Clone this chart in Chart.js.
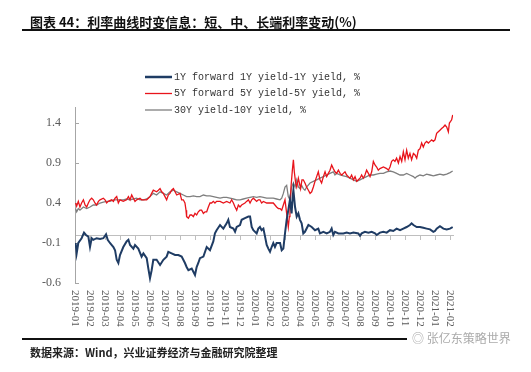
<!DOCTYPE html>
<html><head><meta charset="utf-8">
<script src="https://cdn.jsdelivr.net/npm/chart.js@4.4.1/dist/chart.umd.min.js"></script>
<style>
html,body{margin:0;padding:0;background:#fff;}
#wrap{position:relative;width:531px;height:372px;overflow:hidden;}
#c{position:absolute;left:0;top:0;}
.t{position:absolute;white-space:nowrap;}
</style></head>
<body><div id="wrap">
<canvas id="c" width="531" height="372"></canvas>
<div class="t" style="left:30px;top:13px;font:bold 13px 'Noto Sans CJK SC';color:#111;line-height:17px;">图表 44：利率曲线时变信息：短、中、长端利率变动(%)</div>
<div style="position:absolute;left:22px;top:29px;width:488px;height:1.5px;background:#111;"></div>
<div style="position:absolute;left:22px;top:338px;width:385px;height:1.5px;background:#111;"></div>
<div class="t" style="left:30px;top:345px;font:bold 11px 'Noto Sans CJK SC';color:#222;line-height:15px;">数据来源：Wind，兴业证券经济与金融研究院整理</div>
<div class="t" style="left:412px;top:330px;font:12px 'Noto Sans CJK SC';color:#aaa;line-height:16px;">◎ 张亿东策略世界</div>
</div>
<script>
const monthLabels = ['2019-01','2019-02','2019-03','2019-04','2019-05','2019-06','2019-07','2019-08','2019-09','2019-10','2019-11','2019-12','2020-01','2020-02','2020-03','2020-04','2020-05','2020-06','2020-07','2020-08','2020-09','2020-10','2020-11','2020-12','2021-01','2021-02'];
const yTickValues = [-0.6,-0.1,0.4,0.9,1.4];
const seriesNames = ['1Y forward 1Y yield-1Y yield, %','5Y forward 5Y yield-5Y yield, %','30Y yield-10Y yield, %'];
const seriesColors = ['#1F3C64','#E8141B','#7F7F7F'];

// [month offset from 2019-01, value]
const fwd1y = [[0.04,-0.10],[0.11,-0.23],[0.22,-0.10],[0.44,-0.04],[0.6,0.03],[0.73,0.0],[0.89,-0.02],[1.0,-0.15],[1.11,-0.04],[1.22,-0.06],[1.44,-0.04],[1.67,-0.05],[1.89,-0.04],[2.07,0.01],[2.18,-0.06],[2.33,-0.10],[2.56,-0.15],[2.67,-0.19],[2.78,-0.31],[2.89,-0.35],[3.0,-0.25],[3.22,-0.15],[3.44,-0.08],[3.56,-0.06],[3.67,-0.125],[3.89,-0.17],[4.0,-0.125],[4.22,-0.17],[4.44,-0.27],[4.56,-0.23],[4.78,-0.29],[4.89,-0.42],[5.0,-0.54],[5.11,-0.44],[5.22,-0.31],[5.44,-0.31],[5.67,-0.375],[5.89,-0.31],[6.11,-0.27],[6.22,-0.21],[6.44,-0.23],[6.67,-0.25],[6.89,-0.25],[7.11,-0.27],[7.33,-0.35],[7.44,-0.40],[7.56,-0.44],[7.78,-0.42],[7.89,-0.46],[8.0,-0.50],[8.11,-0.40],[8.22,-0.35],[8.33,-0.29],[8.56,-0.27],[8.78,-0.15],[9.0,-0.19],[9.22,-0.08],[9.33,0.02],[9.44,0.06],[9.67,0.125],[9.89,0.08],[10.11,0.146],[10.22,0.19],[10.33,0.10],[10.56,0.08],[10.67,0.04],[10.78,0.10],[11.0,0.125],[11.11,0.19],[11.33,0.21],[11.56,0.23],[11.67,0.23],[11.78,0.10],[11.89,0.06],[12.11,0.02],[12.22,0.08],[12.33,0.10],[12.44,0.06],[12.56,0.08],[12.67,-0.02],[12.78,-0.125],[12.89,-0.17],[13.0,-0.21],[13.11,-0.15],[13.22,-0.10],[13.33,-0.15],[13.44,-0.10],[13.67,-0.10],[13.78,-0.19],[13.89,-0.17],[14.0,0.02],[14.11,0.19],[14.22,0.31],[14.33,0.44],[14.44,0.27],[14.51,0.48],[14.56,0.56],[14.67,0.35],[14.78,0.23],[14.89,0.27],[15.0,0.19],[15.11,0.146],[15.22,0.02],[15.33,0.04],[15.56,0.125],[15.78,0.10],[16.0,0.06],[16.22,0.08],[16.33,0.02],[16.56,0.04],[16.78,0.02],[17.0,0.04],[17.11,0.08],[17.22,0.0],[17.33,0.04],[17.56,0.02],[17.89,0.02],[18.11,0.03],[18.33,0.02],[18.56,0.03],[18.89,0.02],[19.0,-0.01],[19.11,0.02],[19.33,0.04],[19.56,0.03],[19.78,0.04],[20.0,0.02],[20.11,0.0],[20.33,0.03],[20.56,0.04],[20.78,0.03],[21.0,0.06],[21.22,0.05],[21.44,0.08],[21.67,0.06],[21.89,0.08],[22.11,0.10],[22.33,0.125],[22.44,0.146],[22.56,0.125],[22.78,0.10],[23.0,0.10],[23.22,0.09],[23.44,0.08],[23.67,0.07],[23.89,0.04],[24.0,0.05],[24.11,0.08],[24.33,0.11],[24.56,0.08],[24.78,0.07],[25.0,0.08],[25.18,0.10]];

const fwd5y = [[0.04,0.40],[0.11,0.36],[0.22,0.42],[0.33,0.35],[0.44,0.40],[0.56,0.44],[0.67,0.375],[0.78,0.35],[0.89,0.40],[1.0,0.44],[1.11,0.46],[1.22,0.44],[1.33,0.40],[1.44,0.375],[1.56,0.42],[1.67,0.44],[1.89,0.46],[2.0,0.44],[2.11,0.40],[2.22,0.42],[2.44,0.44],[2.56,0.42],[2.67,0.46],[2.78,0.48],[2.89,0.40],[3.0,0.44],[3.22,0.42],[3.44,0.44],[3.56,0.48],[3.67,0.44],[3.78,0.50],[3.89,0.46],[4.0,0.42],[4.11,0.44],[4.33,0.46],[4.44,0.44],[4.56,0.44],[4.78,0.44],[5.0,0.48],[5.11,0.52],[5.22,0.56],[5.44,0.54],[5.56,0.56],[5.67,0.58],[5.78,0.54],[5.89,0.52],[6.0,0.48],[6.11,0.44],[6.22,0.50],[6.33,0.52],[6.44,0.56],[6.56,0.58],[6.67,0.54],[6.78,0.50],[7.0,0.52],[7.11,0.44],[7.22,0.44],[7.33,0.40],[7.4,0.31],[7.44,0.23],[7.56,0.21],[7.67,0.25],[7.78,0.25],[7.89,0.23],[8.0,0.27],[8.11,0.25],[8.22,0.29],[8.33,0.31],[8.44,0.31],[8.56,0.27],[8.67,0.29],[8.78,0.29],[8.89,0.35],[9.0,0.40],[9.11,0.40],[9.22,0.42],[9.33,0.40],[9.44,0.42],[9.67,0.42],[9.89,0.40],[10.11,0.42],[10.33,0.40],[10.44,0.44],[10.56,0.40],[10.67,0.35],[10.78,0.31],[10.89,0.375],[11.0,0.35],[11.11,0.375],[11.33,0.40],[11.44,0.42],[11.56,0.44],[11.67,0.40],[11.78,0.44],[11.89,0.46],[12.0,0.44],[12.11,0.42],[12.22,0.44],[12.33,0.44],[12.44,0.40],[12.56,0.42],[12.78,0.40],[13.0,0.40],[13.22,0.40],[13.33,0.375],[13.44,0.35],[13.56,0.33],[13.67,0.33],[13.78,0.31],[13.89,0.375],[14.0,0.44],[14.11,0.27],[14.16,0.19],[14.22,0.10],[14.29,0.23],[14.33,0.35],[14.4,0.60],[14.49,0.81],[14.56,0.94],[14.62,0.79],[14.71,0.65],[14.78,0.60],[14.89,0.71],[14.96,0.65],[15.04,0.58],[15.13,0.69],[15.22,0.69],[15.33,0.65],[15.44,0.60],[15.56,0.56],[15.67,0.52],[15.78,0.54],[15.89,0.60],[16.0,0.67],[16.11,0.73],[16.22,0.79],[16.33,0.69],[16.44,0.65],[16.56,0.73],[16.67,0.79],[16.78,0.73],[16.89,0.77],[17.0,0.81],[17.11,0.875],[17.22,0.83],[17.33,0.79],[17.44,0.77],[17.56,0.81],[17.67,0.77],[17.78,0.75],[17.89,0.77],[18.0,0.79],[18.11,0.75],[18.22,0.73],[18.33,0.71],[18.44,0.75],[18.56,0.69],[18.67,0.73],[18.78,0.67],[18.89,0.69],[19.0,0.71],[19.11,0.75],[19.22,0.71],[19.33,0.75],[19.44,0.81],[19.56,0.77],[19.67,0.73],[19.78,0.79],[19.89,0.92],[20.0,0.875],[20.11,0.85],[20.22,0.81],[20.33,0.83],[20.56,0.85],[20.78,0.83],[20.89,0.81],[21.0,0.85],[21.11,0.92],[21.22,0.94],[21.33,0.92],[21.44,0.96],[21.56,0.90],[21.67,0.98],[21.78,0.92],[21.89,1.04],[22.0,0.94],[22.11,1.06],[22.22,0.96],[22.33,1.02],[22.44,0.94],[22.56,1.02],[22.67,1.00],[22.78,0.96],[22.89,1.06],[23.0,1.08],[23.11,1.15],[23.22,1.10],[23.33,1.15],[23.44,1.17],[23.56,1.15],[23.67,1.17],[23.78,1.19],[23.89,1.17],[24.0,1.19],[24.11,1.27],[24.22,1.29],[24.33,1.31],[24.44,1.33],[24.56,1.35],[24.67,1.375],[24.78,1.35],[24.89,1.29],[24.96,1.40],[25.04,1.42],[25.11,1.44],[25.18,1.50]];

const y30m10 = [[0.04,0.33],[0.11,0.29],[0.22,0.33],[0.33,0.31],[0.56,0.35],[0.78,0.33],[1.0,0.35],[1.22,0.375],[1.44,0.375],[1.67,0.40],[1.89,0.41],[2.11,0.42],[2.33,0.42],[2.56,0.44],[2.78,0.44],[3.0,0.44],[3.22,0.44],[3.44,0.45],[3.67,0.44],[3.89,0.45],[4.11,0.46],[4.33,0.44],[4.56,0.44],[4.78,0.45],[5.0,0.48],[5.22,0.52],[5.44,0.50],[5.67,0.54],[5.89,0.52],[6.11,0.50],[6.33,0.54],[6.56,0.56],[6.78,0.54],[7.0,0.52],[7.22,0.50],[7.44,0.48],[7.67,0.48],[7.89,0.49],[8.11,0.48],[8.33,0.48],[8.56,0.50],[8.78,0.49],[9.0,0.49],[9.22,0.48],[9.44,0.47],[9.67,0.46],[9.89,0.47],[10.11,0.47],[10.33,0.46],[10.56,0.45],[10.78,0.44],[11.0,0.44],[11.22,0.45],[11.44,0.46],[11.67,0.47],[11.89,0.48],[12.11,0.47],[12.33,0.48],[12.56,0.47],[12.78,0.46],[13.0,0.46],[13.22,0.46],[13.44,0.45],[13.67,0.44],[13.78,0.46],[13.89,0.52],[14.0,0.60],[14.11,0.62],[14.22,0.48],[14.33,0.44],[14.44,0.60],[14.56,0.65],[14.67,0.60],[14.78,0.69],[14.89,0.60],[15.0,0.58],[15.11,0.62],[15.22,0.58],[15.33,0.56],[15.44,0.60],[15.67,0.65],[15.89,0.67],[16.11,0.69],[16.33,0.71],[16.56,0.73],[16.78,0.75],[17.0,0.77],[17.22,0.79],[17.33,0.75],[17.44,0.77],[17.67,0.75],[17.89,0.74],[18.11,0.73],[18.33,0.71],[18.56,0.69],[18.78,0.67],[19.0,0.69],[19.22,0.71],[19.44,0.73],[19.67,0.75],[19.89,0.75],[20.11,0.76],[20.33,0.77],[20.56,0.77],[20.78,0.79],[21.0,0.80],[21.22,0.79],[21.44,0.77],[21.67,0.75],[21.89,0.75],[22.11,0.77],[22.33,0.75],[22.56,0.73],[22.67,0.71],[22.78,0.73],[23.0,0.75],[23.22,0.74],[23.44,0.76],[23.67,0.75],[23.89,0.74],[24.11,0.75],[24.33,0.76],[24.56,0.75],[24.78,0.76],[25.0,0.78],[25.18,0.80]];

const toXY = arr => arr.map(p => ({x: p[0], y: p[1]}));
const seriesData = [fwd1y, fwd5y, y30m10];
const lineWidths = [2, 1.3, 1.3];

const legendPlugin = {
  id: 'customLegend',
  afterDraw(chart) {
    const ctx = chart.ctx;
    ctx.save();
    ctx.font = "10px 'Liberation Mono'";
    ctx.textBaseline = 'middle';
    ctx.textAlign = 'left';
    chart.data.datasets.forEach((ds, i) => {
      const y = 77 + i * 16.5;
      ctx.strokeStyle = ds.borderColor;
      ctx.lineWidth = i === 0 ? 2.5 : 1.3;
      ctx.beginPath(); ctx.moveTo(145, y); ctx.lineTo(172, y); ctx.stroke();
      ctx.fillStyle = '#333';
      ctx.fillText(ds.label, 174, y);
    });
    ctx.restore();
  }
};

const xLabelPlugin = {
  id: 'xLabels',
  afterDraw(chart) {
    const ctx = chart.ctx, xs = chart.scales.x;
    ctx.save();
    ctx.font = "11px 'Liberation Serif'";
    ctx.fillStyle = '#595959';
    ctx.textAlign = 'left';
    ctx.textBaseline = 'middle';
    monthLabels.forEach((lab, i) => {
      const px = xs.getPixelForValue(i);
      ctx.save();
      ctx.translate(px, 290);
      ctx.rotate(Math.PI / 2);
      ctx.fillText(lab, 0, 0);
      ctx.restore();
    });
    ctx.restore();
  }
};

new Chart(document.getElementById('c'), {
  type: 'line',
  data: {
    datasets: seriesData.map((d, i) => ({
      label: seriesNames[i],
      data: toXY(d),
      borderColor: seriesColors[i],
      borderWidth: lineWidths[i],
      pointRadius: 0,
      tension: 0,
      fill: false
    }))
  },
  options: {
    responsive: false,
    animation: false,
    events: [],
    layout: { padding: { top: 107, bottom: 89, left: 0, right: 78 } },
    scales: {
      x: {
        type: 'linear',
        position: { y: 0 },
        min: 0,
        max: 25.2,
        afterBuildTicks: s => { s.ticks = monthLabels.map((l, i) => ({ value: i })); },
        ticks: { display: false },
        grid: { drawOnChartArea: false, drawTicks: true, tickLength: 4, color: '#BFBFBF' },
        border: { color: '#BFBFBF', width: 1 }
      },
      y: {
        type: 'linear',
        position: 'left',
        min: -0.6,
        max: 1.6,
        afterBuildTicks: s => { s.ticks = yTickValues.map(v => ({ value: v })); },
        afterFit: s => { s.width = 75; },
        ticks: {
          callback: v => v.toFixed(1),
          font: { family: 'Liberation Serif', size: 12 },
          color: '#595959',
          padding: 18
        },
        grid: { drawOnChartArea: false, drawTicks: true, tickLength: -4, color: '#A6A6A6' },
        border: { color: '#A6A6A6', width: 1 }
      }
    },
    plugins: { legend: { display: false }, tooltip: { enabled: false }, title: { display: false } }
  },
  plugins: [legendPlugin, xLabelPlugin]
});
</script>
</body></html>
